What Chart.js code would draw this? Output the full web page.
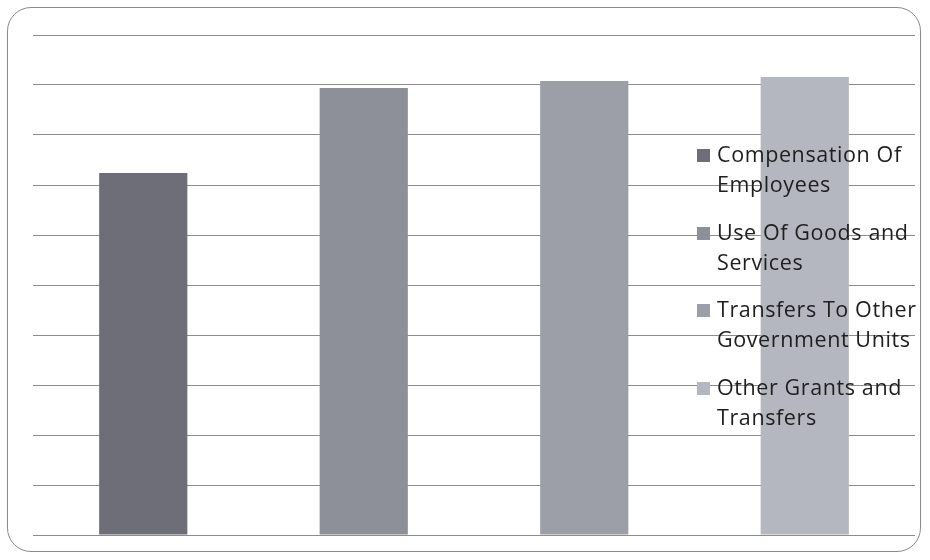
<!DOCTYPE html>
<html><head><meta charset="utf-8">
<script src="https://cdn.jsdelivr.net/npm/chart.js@4/dist/chart.umd.min.js"></script>
<style>
html,body{margin:0;padding:0;background:#fff;}
#wrap{position:relative;width:930px;height:560px;}
#frame{position:absolute;left:7px;top:7px;width:914px;height:545px;border:1.5px solid #8a8a8a;border-radius:24px;box-sizing:border-box;}
#c{position:absolute;left:0;top:0;}
#legend{position:absolute;left:697px;top:139px;width:240px;font-family:"Open Sans",Lato,sans-serif;font-size:21.5px;color:#1e1e1e;line-height:30px;letter-spacing:0.6px;}
.item{position:relative;padding-left:20px;margin-bottom:17.5px;white-space:nowrap;}
.box{position:absolute;left:0;top:10px;width:13px;height:13px;}
</style></head>
<body><div id="wrap"><div id="frame"></div><canvas id="c" width="930" height="560"></canvas><div id="legend"></div></div>
<script>
const categories = [""];
const seriesNames = ["Compensation Of Employees","Use Of Goods and Services","Transfers To Other Government Units","Other Grants and Transfers"];
const legendLines = [["Compensation Of","Employees"],["Use Of Goods and","Services"],["Transfers To Other","Government Units"],["Other Grants and","Transfers"]];
const seriesValues = [7.24, 8.94, 9.08, 9.16];
const colors = ["#6d6e77","#8e9099","#9c9ea8","#b5b7c0"];
const yTicks = [0,1,2,3,4,5,6,7,8,9,10];

const datasets = seriesNames.map((n,i)=>({label:n,data:[seriesValues[i]],backgroundColor:colors[i],borderWidth:0}));
new Chart(document.getElementById('c'),{
  type:'bar',
  data:{labels:categories,datasets},
  options:{
    responsive:false,animation:false,
    layout:{padding:{left:33,top:35,right:15,bottom:25}},
    plugins:{legend:{display:false},tooltip:{enabled:false}},
    datasets:{bar:{categoryPercentage:1.0,barPercentage:0.4}},
    scales:{
      x:{display:false},
      y:{min:yTicks[0],max:yTicks[yTicks.length-1],
         afterBuildTicks:(s)=>{s.ticks=yTicks.map(v=>({value:v}));},
         ticks:{display:false},border:{display:false},
         grid:{color:'#8c8c8c',lineWidth:1,drawTicks:false}}
    }
  }
});
const lg=document.getElementById('legend');
legendLines.forEach((lines,i)=>{
  const d=document.createElement('div');d.className='item';
  d.innerHTML='<span class="box" style="background:'+colors[i]+'"></span>'+lines.join('<br>');
  lg.appendChild(d);
});
</script></body></html>
